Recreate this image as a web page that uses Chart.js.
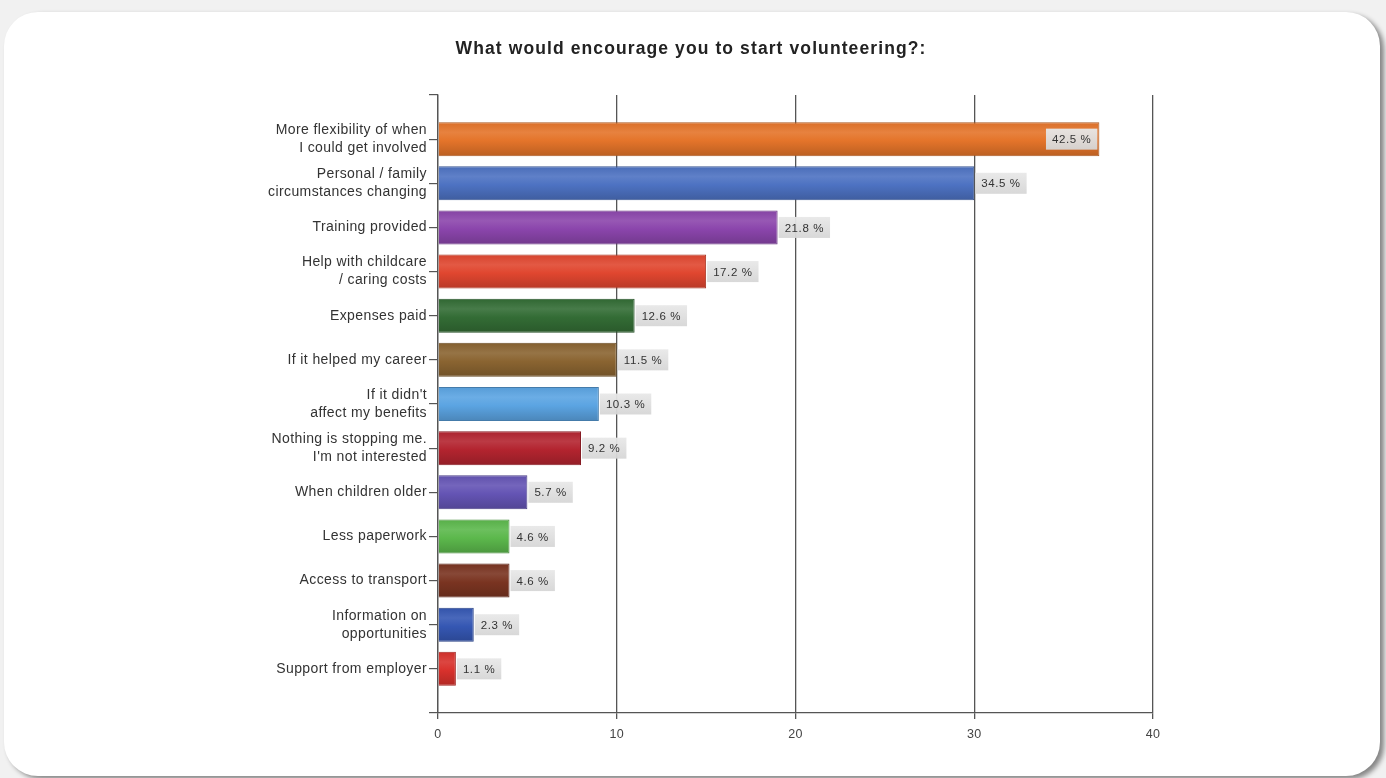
<!DOCTYPE html>
<html>
<head>
<meta charset="utf-8">
<title>Volunteering survey</title>
<script src="https://cdn.jsdelivr.net/npm/chart.js@4.4.1/dist/chart.umd.min.js"></script>
<style>
    html, body {
        margin: 0;
        padding: 0;
        width: 1386px;
        height: 778px;
        overflow: hidden;
        background: #f1f1f1;
    }
    .card {
        position: absolute;
        left: 4px;
        top: 12px;
        width: 1376px;
        height: 764px;
        background: #fff;
        border-radius: 34px;
        box-shadow: 4px 3px 5px rgba(0, 0, 0, 0.45);
    }
    #survey-chart {
        position: absolute;
        left: 0;
        top: 0;
    }
</style>
</head>
<body>
<div class="card"></div>
<canvas id="survey-chart" width="1386" height="778"></canvas>
<script>
const chartTitle = 'What would encourage you to start volunteering?:';
const reasons = [
    ['More flexibility of when', 'I could get involved'],
    ['Personal / family', 'circumstances changing'],
    'Training provided',
    ['Help with childcare', '/ caring costs'],
    'Expenses paid',
    'If it helped my career',
    ["If it didn't", 'affect my benefits'],
    ['Nothing is stopping me.', "I'm not interested"],
    'When children older',
    'Less paperwork',
    'Access to transport',
    ['Information on', 'opportunities'],
    'Support from employer'
];
// number of respondents per answer (bar length)
const responses = [37, 30, 19, 15, 11, 10, 9, 8, 5, 4, 4, 2, 1];
// share of respondents, printed next to each bar
const percentLabels = ['42.5', '34.5', '21.8', '17.2', '12.6', '11.5', '10.3', '9.2', '5.7', '4.6', '4.6', '2.3', '1.1'];
const barColors = ['#e4742a', '#4d72c2', '#8b45ac', '#e0462f', '#336c35', '#8a6431', '#5ba4e2',
    '#b3242f', '#6454b4', '#5cb84c', '#7a3421', '#3557b3', '#d8312c'];
const xTicks = [0, 10, 20, 30, 40];

const FONT = '"Liberation Sans", Arial, sans-serif';
const BAR_PCT = 0.77;

function shade(hex, amt) {
    const n = parseInt(hex.slice(1), 16);
    const ch = [(n >> 16) & 255, (n >> 8) & 255, n & 255].map(c => {
        const v = amt < 0 ? c * (1 + amt) : c + (255 - c) * amt;
        return Math.round(Math.max(0, Math.min(255, v)));
    });
    return `rgb(${ch[0]}, ${ch[1]}, ${ch[2]})`;
}

// slightly open spacing for the axis text, and the title above the plot
const textStyle = {
    id: 'textStyle',
    beforeDraw(chart) {
        chart.ctx.letterSpacing = '0.4px';
    },
    afterDraw(chart) {
        const ctx = chart.ctx;
        ctx.save();
        ctx.letterSpacing = '1.1px';
        ctx.font = `bold 17.5px ${FONT}`;
        ctx.fillStyle = '#222';
        ctx.textAlign = 'center';
        ctx.textBaseline = 'middle';
        ctx.fillText(chartTitle, 691, 49);
        ctx.restore();
    }
};

const valueBoxes = {
    id: 'valueBoxes',
    afterDatasetsDraw(chart) {
        const ctx = chart.ctx;
        const area = chart.chartArea;
        const meta = chart.getDatasetMeta(0);
        ctx.save();
        ctx.letterSpacing = '0.6px';
        ctx.font = `11.5px ${FONT}`;
        ctx.textBaseline = 'middle';
        meta.data.forEach((bar, i) => {
            const text = percentLabels[i] + ' %';
            const w = ctx.measureText(text).width + 12;
            const h = 21;
            let x = bar.x + 1;
            if (x + w + 10 > area.right) {
                x = bar.x - w - 2;
            }
            const g = ctx.createLinearGradient(0, bar.y - h / 2, 0, bar.y + h / 2);
            g.addColorStop(0, 'rgba(232, 232, 232, 0.95)');
            g.addColorStop(1, 'rgba(214, 214, 214, 0.95)');
            ctx.fillStyle = g;
            ctx.fillRect(x, bar.y - h / 2, w, h);
            ctx.fillStyle = '#333';
            ctx.textAlign = 'left';
            ctx.fillText(text, x + 6, bar.y + 1);
        });
        ctx.restore();
    }
};

const chart = new Chart(document.getElementById('survey-chart'), {
    type: 'bar',
    data: {
        datasets: [{
            data: responses.map((v, i) => ({ x: v, y: i })),
            backgroundColor: (c) => {
                const base = barColors[c.dataIndex];
                const ch = c.chart;
                if (!ch.chartArea || !ch.scales.y) {
                    return base;
                }
                const yc = ch.scales.y.getPixelForValue(c.dataIndex);
                const half = Math.abs(ch.scales.y.getPixelForValue(1) - ch.scales.y.getPixelForValue(0)) * BAR_PCT / 2;
                const g = ch.ctx.createLinearGradient(0, yc - half, 0, yc + half);
                g.addColorStop(0, shade(base, -0.05));
                g.addColorStop(0.3, shade(base, 0.1));
                g.addColorStop(0.55, base);
                g.addColorStop(1, shade(base, -0.18));
                return g;
            },
            borderColor: (c) => shade(barColors[c.dataIndex], -0.25),
            borderWidth: 1,
            borderSkipped: 'left',
            barPercentage: BAR_PCT,
            categoryPercentage: 1.0
        }]
    },
    plugins: [textStyle, valueBoxes],
    options: {
        indexAxis: 'y',
        responsive: false,
        animation: false,
        layout: {
            padding: { left: 0, right: 233, top: 95, bottom: 0 }
        },
        plugins: {
            legend: { display: false },
            tooltip: { enabled: false },
            title: { display: false }
        },
        scales: {
            x: {
                type: 'linear',
                min: xTicks[0],
                max: xTicks[xTicks.length - 1],
                afterBuildTicks: (scale) => {
                    scale.ticks = xTicks.map(v => ({ value: v }));
                },
                afterFit: (scale) => {
                    scale.height = 65;
                },
                border: { color: '#555', width: 1.3 },
                grid: {
                    color: '#555',
                    lineWidth: 1.3,
                    tickLength: 6
                },
                ticks: {
                    color: '#444',
                    padding: 8,
                    font: { family: FONT, size: 12.5 }
                }
            },
            y: {
                type: 'linear',
                reverse: true,
                offset: false,
                min: -1,
                max: reasons.length,
                afterBuildTicks: (scale) => {
                    const t = [];
                    for (let v = -1; v <= reasons.length; v++) {
                        t.push({ value: v });
                    }
                    scale.ticks = t;
                },
                afterFit: (scale) => {
                    scale.width = 438;
                },
                border: { color: '#555', width: 1.3 },
                grid: {
                    offset: false,
                    drawOnChartArea: false,
                    color: '#555',
                    lineWidth: 1.2,
                    tickLength: 9
                },
                ticks: {
                    color: '#333',
                    padding: 2,
                    autoSkip: false,
                    font: { family: FONT, size: 14, lineHeight: 1.29 },
                    callback: (v) => (v >= 0 && v < reasons.length ? reasons[v] : '')
                }
            }
        }
    }
});
</script>
</body>
</html>
